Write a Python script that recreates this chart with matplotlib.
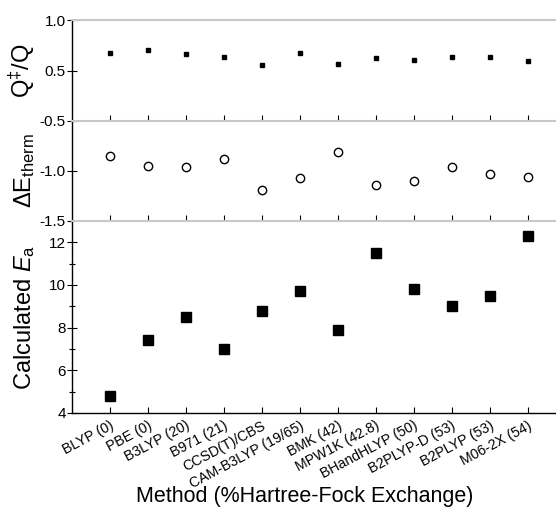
import numpy as np
import matplotlib
matplotlib.use("Agg")
import matplotlib.pyplot as plt
from matplotlib.ticker import MultipleLocator

plt.rcParams['font.family'] = ['Liberation Sans', 'DejaVu Sans']
plt.rcParams['mathtext.fontset'] = 'custom'
plt.rcParams['mathtext.rm'] = 'Liberation Sans'
plt.rcParams['mathtext.it'] = 'Liberation Sans:italic'

# Data
methods = ["BLYP (0)", "PBE (0)", "B3LYP (20)", "B971 (21)", "CCSD(T)/CBS",
           "CAM-B3LYP (19/65)", "BMK (42)", "MPW1K (42.8)", "BHandHLYP (50)",
           "B2PLYP-D (53)", "B2PLYP (53)", "M06-2X (54)"]
q_ratio = [0.67, 0.70, 0.66, 0.63, 0.55, 0.67, 0.56, 0.62, 0.60, 0.63, 0.63, 0.59]
de_therm = [-0.85, -0.95, -0.96, -0.875, -1.19, -1.065, -0.81, -1.14, -1.095,
            -0.96, -1.025, -1.055]
ea = [4.8, 7.4, 8.5, 7.0, 8.8, 9.7, 7.9, 11.5, 9.8, 9.0, 9.5, 12.3]

x = np.arange(len(methods))
W, H = 556, 509
fig = plt.figure(figsize=(W / 100, H / 100), dpi=100)

left = 72 / W
width = 1.0 - left

def frac(top_px, bot_px):
    return [left, 1 - bot_px / H, width, (bot_px - top_px) / H]

ax1 = fig.add_axes(frac(20, 121))
ax2 = fig.add_axes(frac(121, 221))
ax3 = fig.add_axes(frac(221, 413))

ax1.plot(x, q_ratio, 's', color='black', markersize=3)
ax2.plot(x, de_therm, 'o', mfc='white', mec='black', mew=1.0, markersize=6)
ax3.plot(x, ea, 's', color='black', markersize=6.5)

ax1.set_ylim(0, 1.0)
ax1.set_yticks([0.5, 1.0])
ax1.set_yticklabels(["0.5", "1.0"])
ax2.set_ylim(-1.5, -0.5)
ax2.set_yticks([-1.5, -1.0, -0.5])
ax2.set_yticklabels(["-1.5", "-1.0", "-0.5"])
ax3.set_ylim(4, 13)
ax3.set_yticks([4, 6, 8, 10, 12])
ax3.yaxis.set_minor_locator(MultipleLocator(1))

for ax in (ax1, ax2, ax3):
    ax.set_xlim(-1.0, 11.75)
    ax.set_xticks(x)
    ax.spines['right'].set_visible(False)
    ax.spines['top'].set_color('#c8c8c8')
    ax.spines['top'].set_linewidth(1.5)
    ax.spines['left'].set_linewidth(1.0)
    ax.spines['bottom'].set_linewidth(1.0)
    ax.tick_params(axis='y', direction='inout', length=7, width=0.8,
                   labelsize=11, pad=1)
    ax.tick_params(axis='y', which='minor', direction='inout', length=4, width=0.8)
    ax.tick_params(axis='x', direction='in', length=4, width=0.8)
    ax.yaxis.set_label_coords(-0.072, 0.5)

ax1.set_xticklabels([])
ax2.set_xticklabels([])
ax3.set_xticklabels(methods, rotation=28, ha='right', rotation_mode='anchor',
                    fontsize=10.2)
ax3.tick_params(axis='x', pad=4)

ax1.set_ylabel("Q$^{\u2021}$/Q", fontsize=17)
ax2.set_ylabel("\u0394E$_{\\mathrm{therm}}$", fontsize=17)
ax3.set_ylabel("Calculated $E_{\\mathrm{a}}$", fontsize=17)
ax3.set_xlabel("Method (%Hartree-Fock Exchange)", fontsize=15.5, va='center')
ax3.xaxis.set_label_coords(0.48, -0.435)

fig.savefig("out.png", dpi=100)
